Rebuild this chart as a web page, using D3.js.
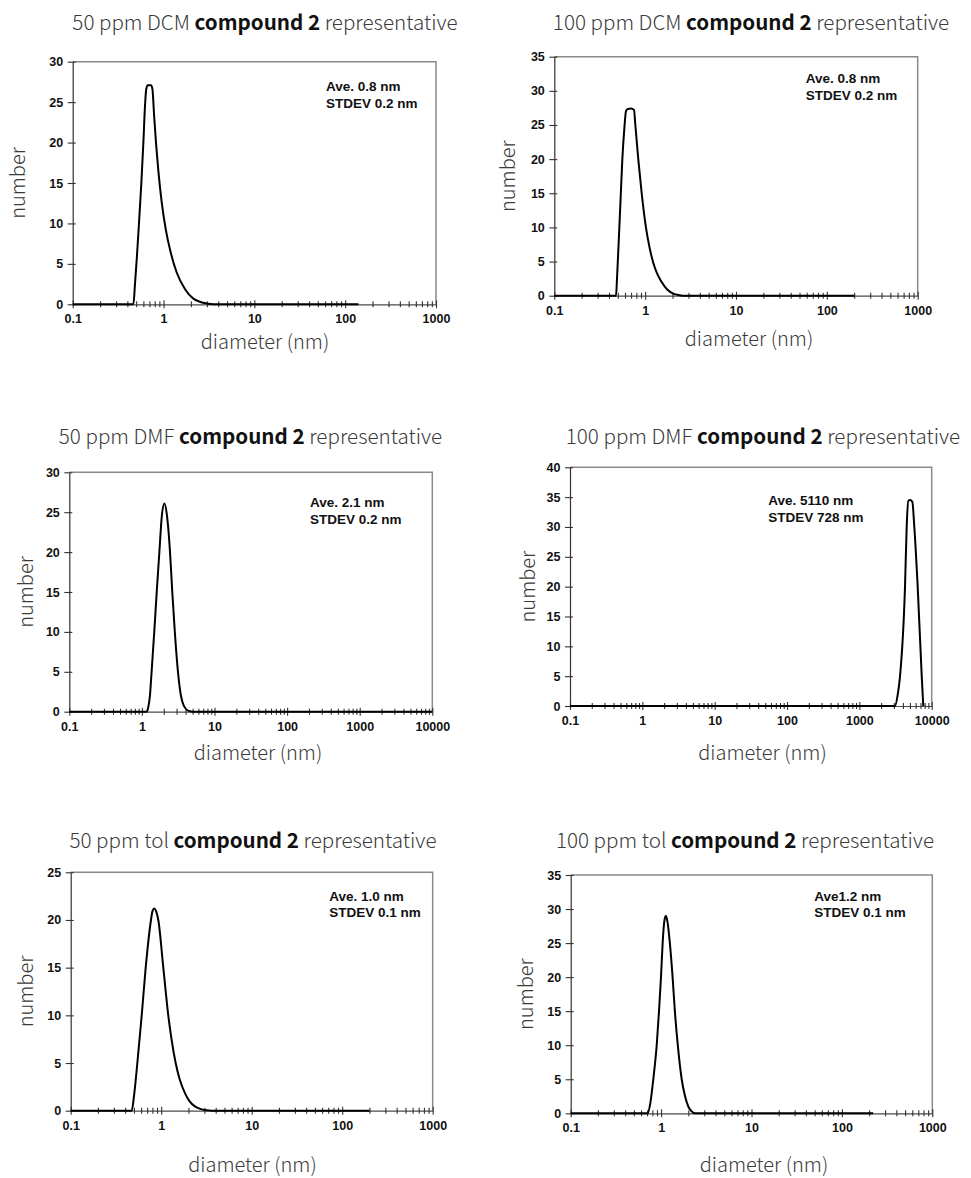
<!DOCTYPE html>
<html>
<head>
<meta charset="utf-8">
<script src="https://cdn.jsdelivr.net/npm/d3@7"></script>
<style>
  html, body { margin: 0; padding: 0; background: #fff; }
  svg { display: block; }
  .tick-num { font-family: "Liberation Sans", Arial, sans-serif; font-weight: bold; font-size: 12.5px; fill: #111; }
  .title { font-family: "Noto Sans CJK JP", "Noto Sans", sans-serif; font-weight: 300; font-size: 20.6px; fill: #3a3a3a; }
  .title .b { font-weight: bold; fill: #111; }
  .axis-title { font-family: "Noto Sans CJK JP", "Noto Sans", sans-serif; font-weight: 300; font-size: 20px; fill: #3a3a3a; }
  .note { font-family: "Liberation Sans", Arial, sans-serif; font-weight: bold; font-size: 13.5px; fill: #111; }
</style>
</head>
<body>
<svg id="chart" width="971" height="1178"></svg>
<script>
// ---- Size distributions (number vs. diameter in nm) ----
const dcm50Diameter = [0.1, 0.466, 0.485, 0.51, 0.54, 0.57, 0.60, 0.625, 0.645, 0.67, 0.73, 0.755, 0.79, 0.83, 0.877, 0.953, 1.057, 1.20, 1.40, 1.72, 2.13, 2.98, 3.6, 140];
const dcm50Number   = [0,   0,     2.5,   6,    10.5, 15,   20,   24.5,  26.6,  27.1, 27.1, 26.6,  23.1, 19.7, 16.5,  12.7,  9.3,   6.4,  3.9,  1.9,  0.7,  0.1,  0,   0];

const dcm100Diameter = [0.1, 0.478, 0.49, 0.50, 0.52, 0.54, 0.561, 0.59, 0.615, 0.635, 0.70, 0.754, 0.78, 0.84, 0.916, 1.02, 1.12, 1.23, 1.36, 1.52, 1.75, 2.04, 2.4, 2.75, 200];
const dcm100Number   = [0,   0,     2.5,  5,    10,   15,   20,    24.5, 27,    27.3,  27.4, 27.2,  25,   20,   15,    10,   7.0,  4.8,  3.2,  2,    0.9,  0.3,  0.08, 0,  0];

const dmf50Diameter = [0.1, 1.16, 1.22, 1.29, 1.36, 1.48, 1.60, 1.74, 1.88, 2.04, 2.22, 2.44, 2.62, 2.86, 3.17, 3.45, 3.8, 4.4, 5.1, 10000];
const dmf50Number   = [0,   0,    0.5,  2,    5,    10,   15,   20,   24.5, 26.1, 24.5, 20,   15,   9.6,  4.6,  2,    0.7, 0.1, 0,   0];

const dmf100Diameter = [0.1, 3110, 3400, 3650, 4275, 4510, 4750, 5000, 5400, 5750, 6400, 7280, 7650];
const dmf100Number   = [0,   0,    2,    5,    20,   30,   34.4, 34.5, 34.2, 30,   20,   5,    0];

const tol50Diameter = [0.1, 0.472, 0.50, 0.545, 0.609, 0.674, 0.771, 0.80, 0.839, 0.88, 0.929, 1.055, 1.197, 1.30, 1.445, 1.60, 1.83, 2.05, 2.36, 2.7, 3.18, 3.6, 200];
const tol50Number   = [0,   0,     1.5,  5,     10,    15,    20,    20.9, 21.2,  20.9, 20,    15,    10,    7.5,  5,     3.3,  1.85, 1.0,  0.45, 0.19, 0.05, 0,   0];

const tol100Diameter = [0.1, 0.711, 0.76, 0.82, 0.894, 0.948, 0.997, 1.04, 1.085, 1.13, 1.18, 1.25, 1.34, 1.42, 1.53, 1.69, 1.84, 2.0, 2.15, 2.37, 222];
const tol100Number   = [0,   0,     1.5,  5,    10,    15,    20,    25,   28.2,  29,   28,   25,   20,   15,   10,   5,    2.5,  1,   0.35, 0,    0];

// ---- Titles, annotations and axis ranges ----
const solventLabels = ["50 ppm DCM", "100 ppm DCM", "50 ppm DMF", "100 ppm DMF", "50 ppm tol", "100 ppm tol"];
const compoundLabel = "compound 2";
const suffixLabel = "representative";
const aveLabels   = ["Ave. 0.8 nm", "Ave. 0.8 nm", "Ave. 2.1 nm", "Ave. 5110 nm", "Ave. 1.0 nm", "Ave1.2 nm"];
const stdevLabels = ["STDEV 0.2 nm", "STDEV 0.2 nm", "STDEV 0.2 nm", "STDEV 728 nm", "STDEV 0.1 nm", "STDEV 0.1 nm"];
const xMaxValues = [1000, 1000, 10000, 10000, 1000, 1000];
const yMaxValues = [30, 35, 30, 40, 25, 35];
const yStep = 5;
const xAxisTitle = "diameter (nm)";
const yAxisTitle = "number";

const seriesDiameters = [dcm50Diameter, dcm100Diameter, dmf50Diameter, dmf100Diameter, tol50Diameter, tol100Diameter];
const seriesNumbers   = [dcm50Number, dcm100Number, dmf50Number, dmf100Number, tol50Number, tol100Number];

// ---- Panel geometry (plot box, title / label anchors) ----
const layout = [
  { l: 72.7,  r: 436,   t: 61.7,  b: 304.3,  titleX: 265,   titleY: 30,  yTitleX: 25,  xTitleX: 265,   xTitleY: 349,  noteX: 326,   noteY: 91 },
  { l: 554.3, r: 917.7, t: 56.7,  b: 295.7,  titleX: 751,   titleY: 30,  yTitleX: 515, xTitleX: 749,   xTitleY: 346,  noteX: 805.7, noteY: 83.3 },
  { l: 69.3,  r: 432.3, t: 472.3, b: 711.7,  titleX: 250.5, titleY: 444, yTitleX: 33,  xTitleX: 258,   xTitleY: 760,  noteX: 310,   noteY: 507.3 },
  { l: 570,   r: 931.7, t: 467.3, b: 706,    titleX: 763,   titleY: 444, yTitleX: 535, xTitleX: 762.5, xTitleY: 760,  noteX: 768.3, noteY: 505 },
  { l: 70.7,  r: 432.7, t: 872.3, b: 1110.7, titleX: 253,   titleY: 848, yTitleX: 33,  xTitleX: 252.5, xTitleY: 1172, noteX: 329.3, noteY: 900.7 },
  { l: 570.7, r: 932.3, t: 875,   b: 1113.3, titleX: 745,   titleY: 848, yTitleX: 533, xTitleX: 764,   xTitleY: 1172, noteX: 814.3, noteY: 900.7 }
];

const svg = d3.select("#chart");

layout.forEach((p, i) => {
  const x = d3.scaleLog().domain([0.1, xMaxValues[i]]).range([p.l, p.r]);
  const y = d3.scaleLinear().domain([0, yMaxValues[i]]).range([p.b, p.t]);
  const g = svg.append("g");

  // frame: top and right edges in grey
  g.append("path")
    .attr("d", `M${p.l},${p.t}H${p.r}V${p.b}`)
    .attr("fill", "none").attr("stroke", "#8a8a8a").attr("stroke-width", 1.5);

  // x axis: every 1..9 multiple per decade, labelled at powers of ten
  const decades = Math.round(Math.log10(xMaxValues[i] / 0.1));
  const xTicks = [];
  for (let k = 0; k < decades; k++) {
    for (let m = 1; m < 10; m++) xTicks.push(+(m * 0.1 * Math.pow(10, k)).toPrecision(3));
  }
  xTicks.push(xMaxValues[i]);
  const isPow10 = v => Math.abs(Math.log10(v) - Math.round(Math.log10(v))) < 1e-9;

  const xAxis = g.append("g")
    .attr("transform", `translate(0,${p.b})`)
    .call(d3.axisBottom(x).tickValues(xTicks).tickSizeOuter(0).tickSizeInner(3)
      .tickFormat(v => isPow10(v) ? d3.format("~g")(v) : ""));
  xAxis.select(".domain").attr("stroke", "#4a4a4a").attr("stroke-width", 1.2);
  xAxis.selectAll(".tick line")
    .attr("y1", v => isPow10(v) ? -4 : -3)
    .attr("y2", v => isPow10(v) ? 4 : 3)
    .attr("stroke", "#333").attr("stroke-width", 1.1);
  xAxis.selectAll(".tick text").filter(v => !isPow10(v)).remove();
  xAxis.selectAll(".tick text").attr("class", "tick-num").attr("y", 10).attr("dy", "0.71em");

  // y axis
  const yAxis = g.append("g")
    .attr("transform", `translate(${p.l},0)`)
    .call(d3.axisLeft(y).tickValues(d3.range(0, yMaxValues[i] + 0.1, yStep)).tickSizeOuter(0).tickSizeInner(5));
  yAxis.select(".domain").attr("stroke", "#333").attr("stroke-width", 1.2);
  yAxis.selectAll(".tick line").attr("x1", 3).attr("x2", -5).attr("stroke", "#333").attr("stroke-width", 1.1);
  yAxis.selectAll(".tick text").attr("class", "tick-num").attr("x", -9.5);

  // distribution curve
  const pts = seriesDiameters[i].map((d, j) => [d, seriesNumbers[i][j]]);
  g.append("path")
    .datum(pts)
    .attr("fill", "none")
    .attr("stroke", "#000")
    .attr("stroke-width", 2)
    .attr("stroke-linejoin", "round")
    .attr("d", d3.line().x(d => x(d[0])).y(d => y(d[1])).curve(d3.curveMonotoneX));

  // title
  const title = svg.append("text").attr("class", "title")
    .attr("x", p.titleX).attr("y", p.titleY).attr("text-anchor", "middle");
  title.append("tspan").text(solventLabels[i] + " ");
  title.append("tspan").attr("class", "b").text(compoundLabel);
  title.append("tspan").text(" " + suffixLabel);

  // axis titles
  svg.append("text").attr("class", "axis-title")
    .attr("text-anchor", "middle")
    .attr("transform", `translate(${p.yTitleX},${(p.t + p.b) / 2}) rotate(-90)`)
    .text(yAxisTitle);
  svg.append("text").attr("class", "axis-title")
    .attr("text-anchor", "middle")
    .attr("x", p.xTitleX).attr("y", p.xTitleY)
    .text(xAxisTitle);

  // average / standard deviation note
  svg.append("text").attr("class", "note").attr("x", p.noteX).attr("y", p.noteY).text(aveLabels[i]);
  svg.append("text").attr("class", "note").attr("x", p.noteX).attr("y", p.noteY + 16.7).text(stdevLabels[i]);
});
</script>
</body>
</html>
